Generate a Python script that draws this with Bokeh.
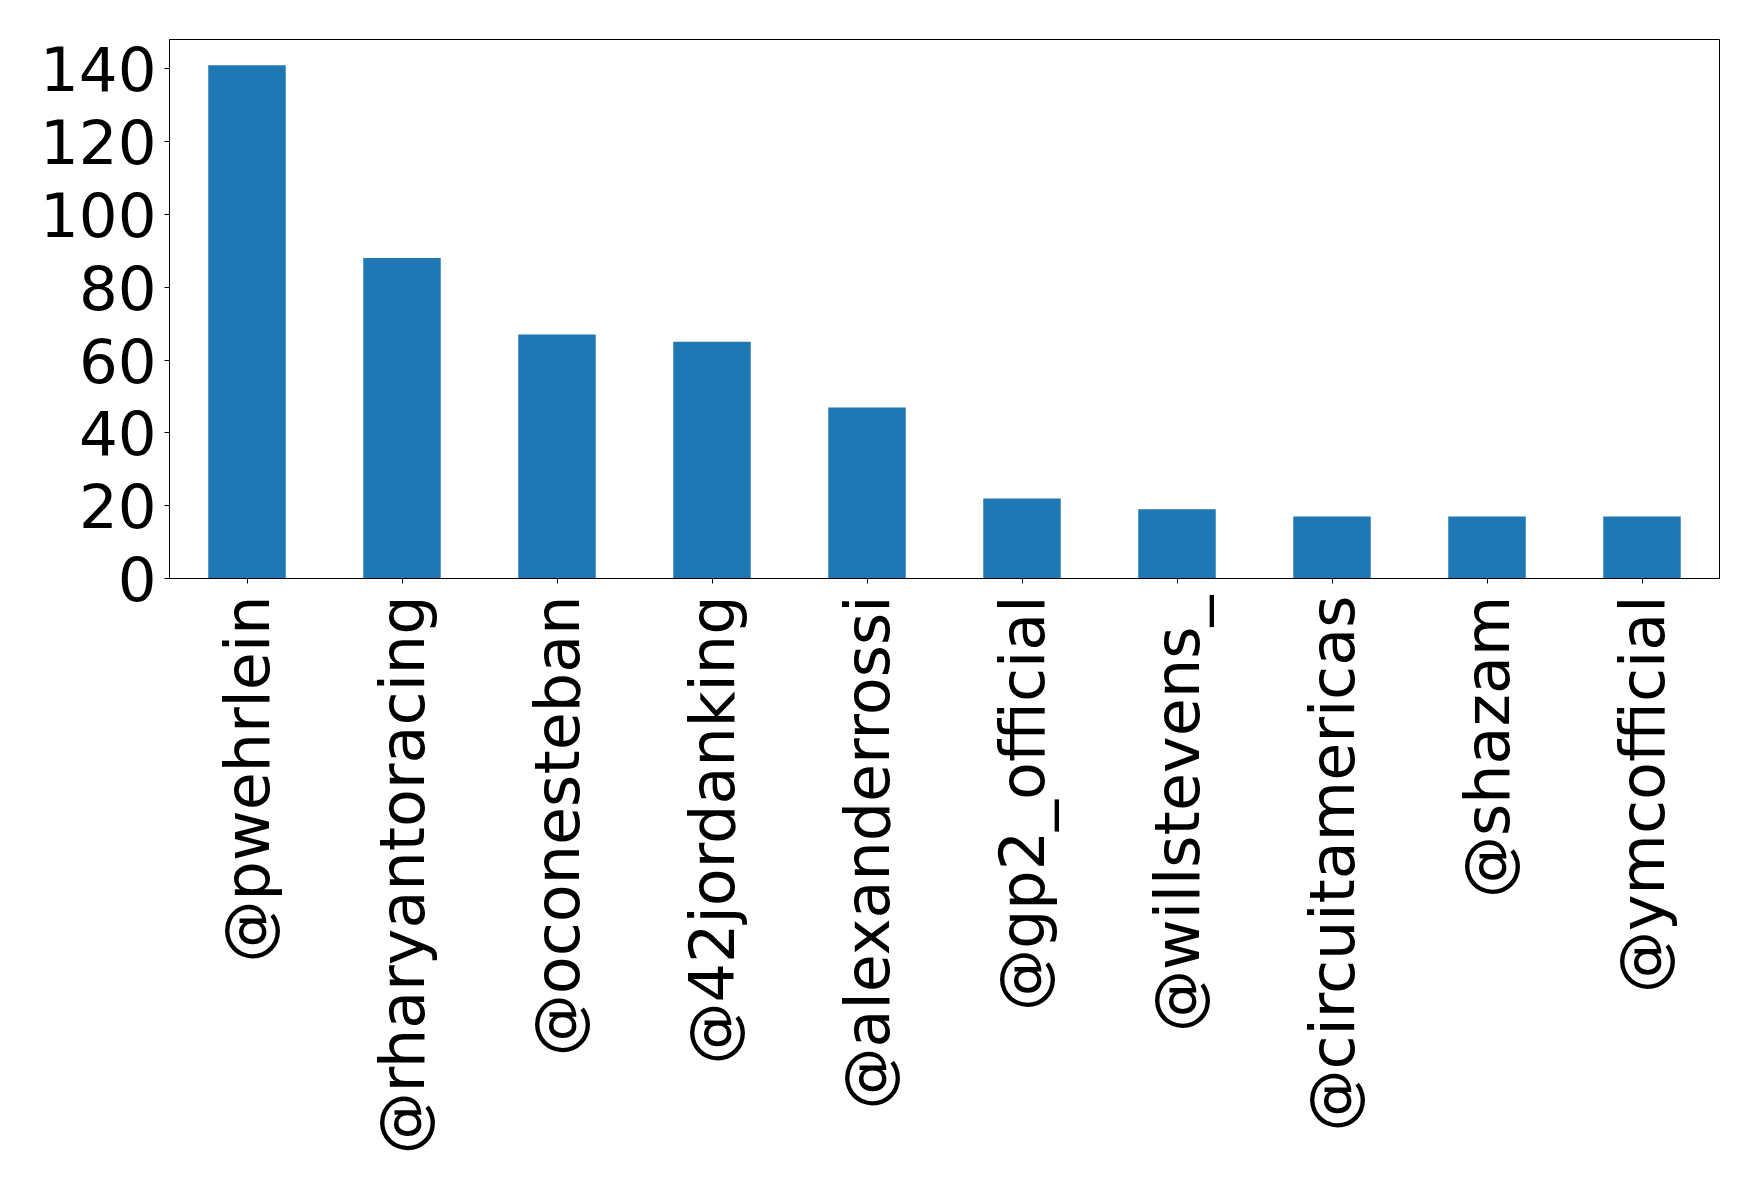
from bokeh.plotting import figure
from bokeh.models import Range1d, FixedTicker, FactorRange
from bokeh.embed import file_html
from bokeh.resources import INLINE
import math

users = ["@pwehrlein", "@rharyantoracing", "@oconesteban", "@42jordanking",
         "@alexanderrossi", "@gp2_official", "@willstevens_", "@circuitamericas",
         "@shazam", "@ymcofficial"]
counts = [141, 88, 67, 65, 47, 22, 19, 17, 17, 17]
y_ticks = [0, 20, 40, 60, 80, 100, 120, 140]

p = figure(x_range=FactorRange(*users, range_padding=0),
           y_range=Range1d(0, max(counts) * 1.05),
           frame_width=1550, frame_height=539,
           min_border_left=169, min_border_top=39, min_border_right=39,
           min_border_bottom=613,
           output_backend="svg", toolbar_location=None)

p.vbar(x=users, top=counts, width=0.5, fill_color="#1f77b4", line_color=None)

p.xgrid.visible = False
p.ygrid.visible = False
p.outline_line_color = "black"
p.outline_line_width = 1
p.outline_line_alpha = 1

p.yaxis.ticker = FixedTicker(ticks=y_ticks)
p.yaxis.minor_tick_line_color = None
for ax in (p.xaxis[0], p.yaxis[0]):
    ax.axis_line_color = "black"
    ax.axis_line_width = 1
    ax.major_tick_line_color = "black"
    ax.major_tick_line_width = 1
    ax.major_tick_in = 0
    ax.major_tick_out = 5
    ax.major_label_text_font = "DejaVu Sans"
    ax.major_label_text_font_size = "61px"
    ax.major_label_text_color = "black"
    ax.major_label_standoff = 8

p.xaxis.major_label_text_font_size = "62px"
p.xaxis.major_label_standoff = 12
p.xaxis.major_label_orientation = math.pi / 2
p.xaxis.group_text_font_size = "0px"

open("out.html", "w").write(file_html(p, INLINE))
